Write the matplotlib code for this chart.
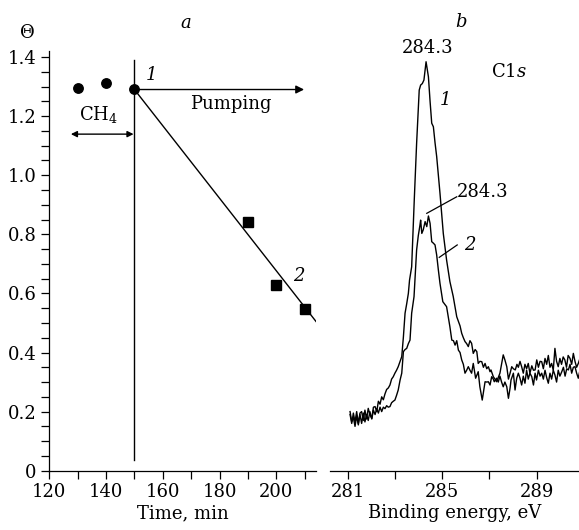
import matplotlib
matplotlib.use("Agg")
import matplotlib.pyplot as plt
from matplotlib.ticker import MultipleLocator, FixedLocator

plt.rcParams['font.family'] = ['DejaVu Serif']
plt.rcParams['mathtext.fontset'] = 'dejavuserif'

# ---- panel a data ----
ch4_time = [130, 140, 150]
ch4_theta = [1.294, 1.311, 1.292]
pump_time = [190, 200, 210]
pump_theta = [0.841, 0.628, 0.547]
fit_time = [150, 214]
fit_theta = [1.29, 0.505]

# ---- panel b data ----
E1 = [281.10, 281.17, 281.24, 281.31, 281.38, 281.45, 281.52, 281.59, 281.66, 281.73,
      281.80, 281.87, 281.94, 282.02, 282.09, 282.16, 282.23, 282.30, 282.37, 282.44,
      282.51, 282.58, 282.65, 282.72, 282.79, 282.86, 282.93, 283.00, 283.07, 283.14,
      283.22, 283.29, 283.36, 283.43, 283.50, 283.57, 283.62, 283.71, 283.82, 283.92,
      284.03, 284.09, 284.16, 284.23, 284.32, 284.42, 284.49, 284.56, 284.63, 284.70,
      284.77, 284.84, 284.91, 285.05, 285.19, 285.33, 285.47, 285.62, 285.76, 285.83,
      285.90, 285.97, 286.04, 286.11, 286.18, 286.25, 286.32, 286.40, 286.47, 286.53,
      286.60, 286.68, 286.75, 286.82, 286.89, 286.96, 287.03, 287.07, 287.17, 287.24,
      287.31, 287.38, 287.45, 287.52, 287.59, 287.66, 287.74, 287.81, 287.88, 287.95,
      288.02, 288.10, 288.17, 288.23, 288.30, 288.37, 288.44, 288.51, 288.58, 288.65,
      288.72, 288.80, 288.87, 288.94, 289.01, 289.08, 289.15, 289.22, 289.29, 289.36,
      289.43, 289.50, 289.57, 289.64, 289.71, 289.78, 289.85, 289.92, 289.99, 290.06,
      290.13, 290.20, 290.27, 290.34, 290.42, 290.49, 290.56, 290.63, 290.70, 290.77,
      290.84]
T1 = [0.190, 0.160, 0.195, 0.165, 0.200, 0.160, 0.195, 0.200, 0.170, 0.205,
      0.175, 0.211, 0.190, 0.177, 0.215, 0.217, 0.200, 0.235, 0.225, 0.250,
      0.240, 0.260, 0.275, 0.280, 0.290, 0.310, 0.318, 0.330, 0.340, 0.352,
      0.370, 0.386, 0.453, 0.533, 0.565, 0.600, 0.645, 0.690, 0.916, 1.108,
      1.288, 1.305, 1.310, 1.322, 1.384, 1.333, 1.250, 1.176, 1.164, 1.110,
      1.063, 1.000, 0.939, 0.803, 0.713, 0.640, 0.590, 0.521, 0.490, 0.465,
      0.450, 0.437, 0.430, 0.420, 0.440, 0.431, 0.397, 0.410, 0.403, 0.363,
      0.370, 0.369, 0.350, 0.363, 0.345, 0.352, 0.335, 0.341, 0.318, 0.310,
      0.301, 0.315, 0.330, 0.360, 0.392, 0.375, 0.352, 0.310, 0.330, 0.352,
      0.345, 0.341, 0.360, 0.350, 0.370, 0.352, 0.330, 0.360, 0.345, 0.363,
      0.330, 0.355, 0.340, 0.341, 0.375, 0.350, 0.370, 0.369, 0.345, 0.380,
      0.360, 0.390, 0.350, 0.363, 0.340, 0.414, 0.370, 0.352, 0.380, 0.360,
      0.385, 0.375, 0.350, 0.390, 0.380, 0.360, 0.397, 0.370, 0.350, 0.363,
      0.380]

E2 = [281.10, 281.17, 281.24, 281.31, 281.38, 281.45, 281.52, 281.59, 281.66, 281.73,
      281.80, 281.87, 281.94, 282.02, 282.09, 282.16, 282.23, 282.30, 282.37, 282.44,
      282.51, 282.58, 282.65, 282.72, 282.79, 282.86, 282.93, 283.00, 283.07, 283.14,
      283.22, 283.29, 283.36, 283.43, 283.50, 283.57, 283.64, 283.71, 283.76, 283.81,
      283.85, 283.92, 283.99, 284.06, 284.09, 284.14, 284.20, 284.28, 284.35, 284.42,
      284.49, 284.56, 284.63, 284.70, 284.77, 284.84, 284.91, 285.03, 285.19, 285.33,
      285.41, 285.48, 285.55, 285.62, 285.69, 285.76, 285.83, 285.90, 285.97, 286.04,
      286.11, 286.18, 286.25, 286.32, 286.42, 286.53, 286.60, 286.70, 286.76, 286.82,
      286.89, 286.96, 287.03, 287.10, 287.17, 287.21, 287.31, 287.38, 287.45, 287.52,
      287.59, 287.66, 287.74, 287.81, 287.88, 287.92, 288.02, 288.09, 288.16, 288.23,
      288.30, 288.37, 288.44, 288.51, 288.58, 288.65, 288.72, 288.80, 288.87, 288.94,
      289.00, 289.08, 289.15, 289.22, 289.29, 289.36, 289.43, 289.50, 289.57, 289.64,
      289.71, 289.78, 289.85, 289.92, 289.99, 290.07, 290.14, 290.21, 290.28, 290.35,
      290.42, 290.49, 290.56, 290.63, 290.70, 290.77, 290.84]
T2 = [0.200, 0.166, 0.180, 0.150, 0.185, 0.155, 0.190, 0.160, 0.195, 0.165,
      0.190, 0.170, 0.200, 0.175, 0.205, 0.190, 0.210, 0.195, 0.215, 0.200,
      0.215, 0.210, 0.220, 0.215, 0.217, 0.230, 0.235, 0.239, 0.255, 0.273,
      0.307, 0.330, 0.403, 0.410, 0.414, 0.430, 0.442, 0.533, 0.560, 0.589,
      0.645, 0.747, 0.795, 0.830, 0.848, 0.803, 0.815, 0.843, 0.826, 0.862,
      0.837, 0.775, 0.770, 0.764, 0.730, 0.680, 0.634, 0.572, 0.555, 0.487,
      0.442, 0.440, 0.425, 0.440, 0.408, 0.400, 0.375, 0.360, 0.330, 0.340,
      0.352, 0.340, 0.330, 0.363, 0.313, 0.335, 0.284, 0.239, 0.270, 0.301,
      0.300, 0.301, 0.290, 0.318, 0.310, 0.301, 0.313, 0.300, 0.320, 0.300,
      0.284, 0.300, 0.284, 0.245, 0.280, 0.307, 0.330, 0.273, 0.313, 0.330,
      0.313, 0.290, 0.320, 0.296, 0.340, 0.310, 0.330, 0.318, 0.290, 0.330,
      0.307, 0.340, 0.320, 0.330, 0.310, 0.340, 0.315, 0.296, 0.330, 0.310,
      0.340, 0.324, 0.300, 0.340, 0.320, 0.335, 0.350, 0.320, 0.345, 0.341,
      0.360, 0.330, 0.350, 0.352, 0.330, 0.313, 0.340]

W, H = 579, 530
fig = plt.figure(figsize=(W / 100, H / 100), dpi=100)

ylim = (0, 1.42)
bot = (H - 470.7) / H
hgt = (470.7 - 51.1) / H

ax = fig.add_axes([49.3 / W, bot, (316 - 49.3) / W, hgt])
axb = fig.add_axes([330 / W, bot, (579 - 330) / W, hgt])

fs = 13
for a in (ax, axb):
    a.spines['top'].set_visible(False)
    a.spines['right'].set_visible(False)
    a.set_ylim(*ylim)
    a.tick_params(which='both', direction='out', length=6, width=0.9, labelsize=fs, pad=3)
    for s in a.spines.values():
        s.set_linewidth(0.9)

# panel a
ax.set_xlim(120, 214)
ax.xaxis.set_major_locator(FixedLocator([120, 140, 160, 180, 200]))
ax.xaxis.set_minor_locator(FixedLocator([130, 150, 170, 190, 210]))
ax.yaxis.set_major_locator(FixedLocator([0, 0.2, 0.4, 0.6, 0.8, 1.0, 1.2, 1.4]))
ax.yaxis.set_minor_locator(MultipleLocator(0.05))
ax.set_yticklabels(['0', '0.2', '0.4', '0.6', '0.8', '1.0', '1.2', '1.4'])
ax.set_xlabel('Time, min', fontsize=fs, labelpad=2)

ax.plot(fit_time, fit_theta, color='black', lw=1.0)
ax.plot([150, 150], [0.036, 1.39], color='black', lw=1.0)
ax.plot(ch4_time, ch4_theta, 'o', color='black', ms=6.8, clip_on=False)
ax.plot(pump_time, pump_theta, 's', color='black', ms=7.2, clip_on=False)
ax.annotate('', xy=(209.8, 1.29), xytext=(150, 1.29),
            arrowprops=dict(arrowstyle='-|>', color='black', lw=1.0,
                            mutation_scale=12, shrinkA=0, shrinkB=0))
ax.annotate('', xy=(127.6, 1.139), xytext=(149.7, 1.139),
            arrowprops=dict(arrowstyle='<|-|>', color='black', lw=1.0,
                            mutation_scale=9, shrinkA=0, shrinkB=0))
ax.text(137.5, 1.205, r'CH$_4$', fontsize=fs, ha='center', va='center')
ax.text(184, 1.24, 'Pumping', fontsize=fs, ha='center', va='center')
ax.text(156, 1.34, '1', fontsize=fs, style='italic', ha='center', va='center')
ax.text(207.8, 0.66, '2', fontsize=fs, style='italic', ha='center', va='center')
ax.text(168, 1.515, 'a', fontsize=fs, style='italic', ha='center', va='center', clip_on=False)
fig.text(27 / W, 1 - 33 / H, 'Θ', fontsize=fs, ha='center', va='center')

# panel b
axb.set_xlim(280.25, 290.8)
axb.spines['left'].set_visible(False)
axb.set_yticks([])
axb.xaxis.set_major_locator(FixedLocator([281, 285, 289]))
axb.xaxis.set_minor_locator(FixedLocator([283, 287]))
axb.set_xlabel('Binding energy, eV', fontsize=fs, labelpad=2)
axb.plot(E1, T1, color='black', lw=1.0)
axb.plot(E2, T2, color='black', lw=1.0)

axb.text(284.4, 1.43, '284.3', fontsize=fs, ha='center', va='center', clip_on=False)
axb.text(285.8, 1.518, 'b', fontsize=fs, style='italic', ha='center', va='center', clip_on=False)
axb.text(287.83, 1.349, r'C1$\it{s}$', fontsize=fs, ha='center', va='center')
axb.text(285.15, 1.254, '1', fontsize=fs, style='italic', ha='center', va='center')
axb.text(286.72, 0.944, '284.3', fontsize=fs, ha='center', va='center')
axb.plot([284.35, 285.62], [0.871, 0.927], color='black', lw=0.9)
axb.text(286.18, 0.764, '2', fontsize=fs, style='italic', ha='center', va='center')
axb.plot([284.88, 285.64], [0.722, 0.764], color='black', lw=0.9)

fig.savefig('out.png', dpi=100)
